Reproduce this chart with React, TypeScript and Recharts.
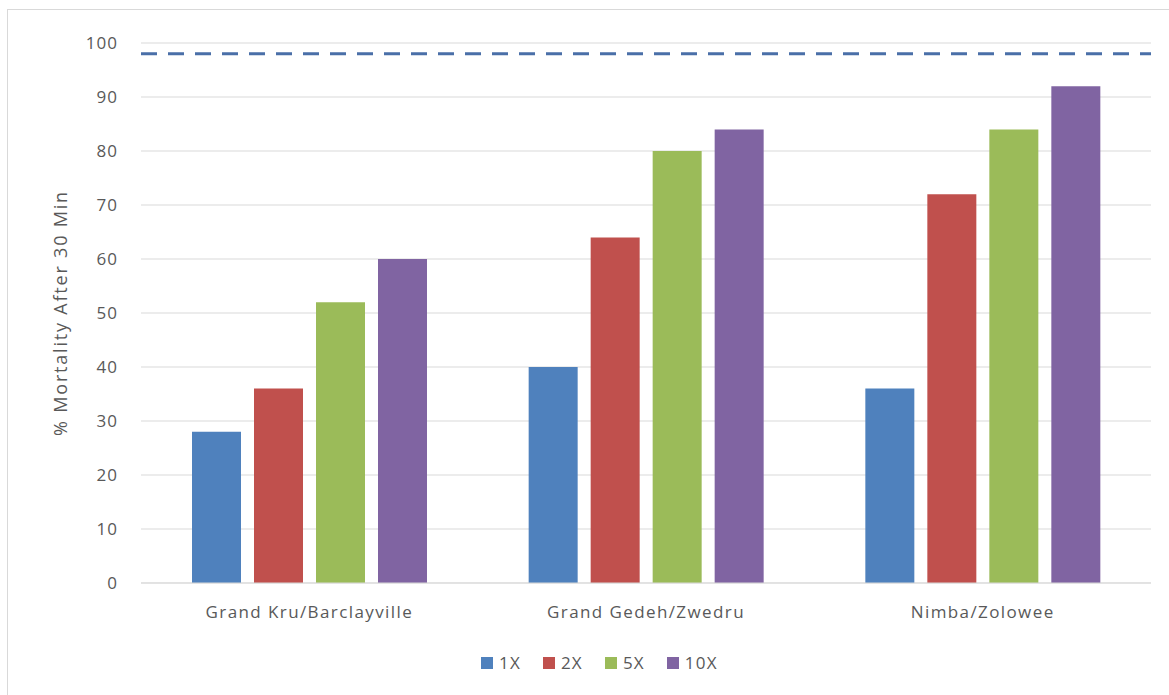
import { Bar, BarChart, CartesianGrid, ReferenceLine, XAxis, YAxis } from 'recharts'

const sites = ['Grand Kru/Barclayville', 'Grand Gedeh/Zwedru', 'Nimba/Zolowee']
const dose1x = [28, 40, 36]
const dose2x = [36, 64, 72]
const dose5x = [52, 80, 84]
const dose10x = [60, 84, 92]
const yTicks = [0, 10, 20, 30, 40, 50, 60, 70, 80, 90, 100]
const thresholdLine = 98

const seriesList = [
  { key: '1X', color: '#4f81bd' },
  { key: '2X', color: '#c0504d' },
  { key: '5X', color: '#9bbb59' },
  { key: '10X', color: '#8064a2' },
]

const data = sites.map((site, i) => ({
  site,
  '1X': dose1x[i],
  '2X': dose2x[i],
  '5X': dose5x[i],
  '10X': dose10x[i],
}))

const font = '"Open Sans", sans-serif'
const textColor = '#595959'

function ChartLegend() {
  return (
    <div
      style={{
        position: 'absolute',
        left: 481,
        top: 651,
        display: 'flex',
        gap: 22,
        fontFamily: font,
        fontSize: 17,
        letterSpacing: 1.2,
        color: textColor,
      }}
    >
      {seriesList.map((s) => (
        <div key={s.key} style={{ display: 'flex', alignItems: 'center' }}>
          <span style={{ width: 12, height: 12, background: s.color, display: 'inline-block', marginRight: 6 }} />
          {s.key}
        </div>
      ))}
    </div>
  )
}

export default function App() {
  return (
    <div style={{ position: 'absolute', left: 0, top: 0, width: 1169, height: 695, background: '#fff', overflow: 'hidden' }}>
      <div
        style={{
          position: 'absolute',
          left: 7,
          top: 9,
          width: 1200,
          height: 720,
          border: '1px solid #d9d9d9',
        }}
      />
      <div style={{ position: 'absolute', left: 0, top: 0 }}>
        <BarChart
          width={1169}
          height={695}
          data={data}
          margin={{ top: 43, right: 18, left: 0, bottom: 82 }}
          barSize={49}
          barGap={13}
        >
          <CartesianGrid vertical={false} stroke="#d9d9d9" strokeWidth={1} />
          <XAxis
            dataKey="site"
            height={30}
            axisLine={{ stroke: '#d9d9d9' }}
            tickLine={false}
            tickSize={0}
            tickMargin={23}
            tick={{ fontSize: 17, fill: textColor, fontFamily: font, letterSpacing: 1.4 }}
          />
          <YAxis
            width={141}
            domain={[0, 100]}
            ticks={yTicks}
            axisLine={false}
            tickLine={false}
            tickSize={0}
            tickMargin={23}
            tick={{ fontSize: 17, fill: textColor, fontFamily: font, letterSpacing: 1 }}
            label={{
              value: '% Mortality  After 30 Min',
              angle: -90,
              position: 'insideLeft',
              dx: 56,
              style: { textAnchor: 'middle', fontSize: 18, fill: textColor, fontFamily: font, letterSpacing: 1.8 },
            }}
          />
          <ReferenceLine y={thresholdLine} stroke="#4a6fa8" strokeWidth={3} strokeDasharray="16 11" />
          {seriesList.map((s) => (
            <Bar key={s.key} dataKey={s.key} fill={s.color} isAnimationActive={false} />
          ))}
        </BarChart>
      </div>
      <ChartLegend />
    </div>
  )
}
